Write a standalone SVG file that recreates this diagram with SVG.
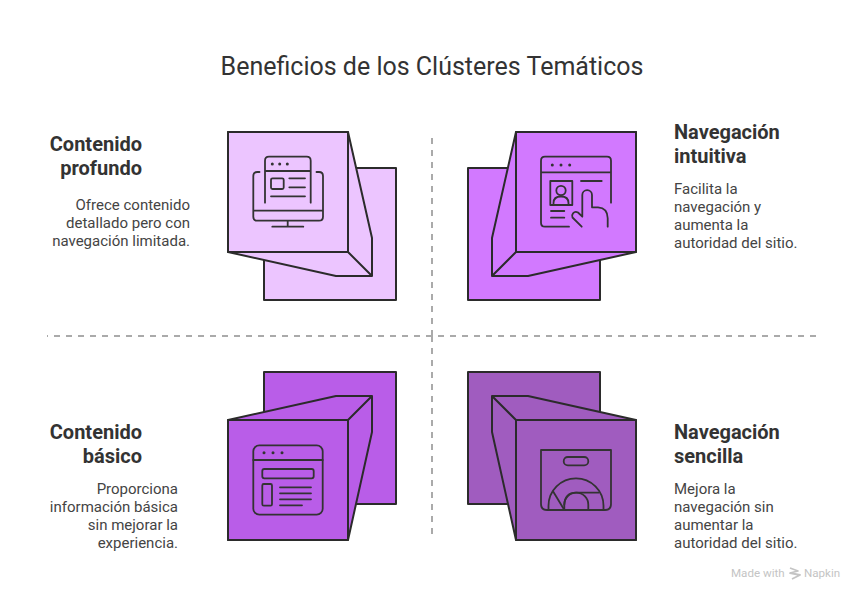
<svg xmlns="http://www.w3.org/2000/svg" width="864" height="600" viewBox="0 0 864 600">
<style>
text{font-family:Roboto,"Liberation Sans",sans-serif;fill:#333}
.title{font-size:25px}
.head{font-size:20px;font-weight:700}
.body{font-size:15px;fill:#444}
.e{text-anchor:end}
.box{stroke:#2b2b2b;stroke-width:2;stroke-linejoin:round}
.icon{fill:none;stroke:#333;stroke-width:1.8;stroke-linecap:round;stroke-linejoin:round}
.dot{fill:#333}
.dash{stroke:#aaa;stroke-width:2;stroke-dasharray:6 6;fill:none}
.mark{font-size:11.6px;fill:#c4c4c4}
</style>
<rect width="864" height="600" fill="#fff"/>
<text class="title" x="432" y="75" text-anchor="middle">Beneficios de los Clústeres Temáticos</text>
<g id="connectors">
<path class="dash" d="M432 336H47"/>
<path class="dash" stroke-dashoffset="6" d="M432 336H817"/>
<path class="dash" d="M432 138V336"/>
<path class="dash" d="M432 336V534"/>
</g>
<g id="node-contenido-profundo">
<rect class="box" x="264" y="168" width="132" height="132" fill="#ecc5ff"/>
<path class="box" fill="#ecc5ff" d="M228 132H348L372 238V276H336L228 252Z"/>
<path class="box" fill="none" d="M228 132H348V252H228ZM348 252L372 276"/>
<g class="icon">
<path d="M265 202.7V160.7Q265 156.7 269 156.7H306.7Q310.7 156.7 310.7 160.7V202.7M265 171H310.7"/>
<rect x="271" y="178.3" width="12.7" height="10.7" rx="1.5"/>
<path d="M289.3 178.3H305M289.3 187.3H305M271 196.3H305"/>
<path d="M259.5 172H257.3Q253.3 172 253.3 176V216.7Q253.3 220.7 257.3 220.7H319Q323 220.7 323 216.7V176Q323 172 319 172H316.5M253.3 210.7H323M287.7 220.7V226.7M272.3 226.7H303.3"/>
</g>
<circle class="dot" cx="272.3" cy="164" r="1.5"/><circle class="dot" cx="279.7" cy="164" r="1.5"/><circle class="dot" cx="287.3" cy="164" r="1.5"/>
<text class="head e" x="142" y="151">Contenido</text>
<text class="head e" x="142" y="175">profundo</text>
<text class="body e" x="190" y="210">Ofrece contenido</text>
<text class="body e" x="190" y="228">detallado pero con</text>
<text class="body e" x="190" y="246">navegación limitada.</text>
</g>
<g id="node-navegacion-intuitiva">
<rect class="box" x="468" y="168" width="132" height="132" fill="#d279ff"/>
<path class="box" fill="#d279ff" d="M636 132H516L492 238V276H528L636 252Z"/>
<path class="box" fill="none" d="M636 132H516V252H636ZM516 252L492 276"/>
<g class="icon">
<path d="M611 202.7V160.7Q611 156.7 607 156.7H545Q541 156.7 541 160.7V222.7Q541 226.7 545 226.7H569M541 172.3H611"/>
<rect x="550.3" y="181" width="22" height="24"/>
<circle cx="561" cy="190.5" r="4.7"/>
<path d="M553.5 205V203Q553.5 196.5 561 196.5Q568.5 196.5 568.5 203V205"/>
<path d="M551 211H564.3M551 217.7H564.3M581 181H601.7"/>
<path d="M581.7 226.7L572.5 217.5Q571.5 215 573 213.3Q575 211 578 212.5L582.3 216.7V195A4.8 4.8 0 0 1 592 195V207.3H598Q607.7 208 607.7 218.3V226.7"/>
</g>
<circle class="dot" cx="552.3" cy="165" r="1.5"/><circle class="dot" cx="561" cy="165" r="1.5"/><circle class="dot" cx="569.7" cy="165" r="1.5"/>
<text class="head" x="674" y="139">Navegación</text>
<text class="head" x="674" y="163">intuitiva</text>
<text class="body" x="674" y="194">Facilita la</text>
<text class="body" x="674" y="212">navegación y</text>
<text class="body" x="674" y="230">aumenta la</text>
<text class="body" x="674" y="248">autoridad del sitio.</text>
</g>
<g id="node-contenido-basico">
<rect class="box" x="264" y="372" width="132" height="132" fill="#b95de8"/>
<path class="box" fill="#b95de8" d="M228 420L336 396H372V432L348 540H228Z"/>
<path class="box" fill="none" d="M228 420H348V540H228ZM348 420L372 396"/>
<g class="icon">
<rect x="253.3" y="445.3" width="69.4" height="69.4" rx="6"/>
<path d="M253.3 460H322.7"/>
<rect x="262.3" y="469" width="51.4" height="9.3" rx="2"/>
<rect x="262.3" y="484" width="9.7" height="21.7" rx="1.5"/>
<path d="M280 487.3H311M280 493.3H311M280 499.3H311M280 505.3H302"/>
</g>
<circle class="dot" cx="264" cy="452.7" r="1.5"/><circle class="dot" cx="273" cy="452.7" r="1.5"/><circle class="dot" cx="282" cy="452.7" r="1.5"/>
<text class="head e" x="142" y="439">Contenido</text>
<text class="head e" x="142" y="463">básico</text>
<text class="body e" x="178" y="494">Proporciona</text>
<text class="body e" x="178" y="512">información básica</text>
<text class="body e" x="178" y="530">sin mejorar la</text>
<text class="body e" x="178" y="548">experiencia.</text>
</g>
<g id="node-navegacion-sencilla">
<rect class="box" x="468" y="372" width="132" height="132" fill="#a05cbf"/>
<path class="box" fill="#a05cbf" d="M636 420L528 396H492V432L516 540H636Z"/>
<path class="box" fill="none" d="M636 420H516V540H636ZM516 420L492 396"/>
<g class="icon">
<path d="M541 450H611V504Q611 510 605 510H547Q541 510 541 504Z"/>
<rect x="563.7" y="457" width="24.6" height="8.3" rx="4.15"/>
<path d="M548.5 510V505.8A27.5 27.5 0 0 1 603.5 505.8V510"/>
<path d="M564.3 510V504.7A12 12 0 0 1 588.3 504.7V510"/>
<path d="M553.3 491.7L563.3 508.3M564.3 504.7Q565 492.7 576 492.7H598.3"/>
</g>
<text class="head" x="674" y="439">Navegación</text>
<text class="head" x="674" y="463">sencilla</text>
<text class="body" x="674" y="494">Mejora la</text>
<text class="body" x="674" y="512">navegación sin</text>
<text class="body" x="674" y="530">aumentar la</text>
<text class="body" x="674" y="548">autoridad del sitio.</text>
</g>
<g id="watermark">
<text class="mark" x="731" y="577">Made with</text>
<path d="M790 568L798 571L790 573L800 575L792 579" fill="none" stroke="#c4c4c4" stroke-width="1.8" stroke-linejoin="round"/>
<text class="mark" x="804" y="577">Napkin</text>
</g>
</svg>
